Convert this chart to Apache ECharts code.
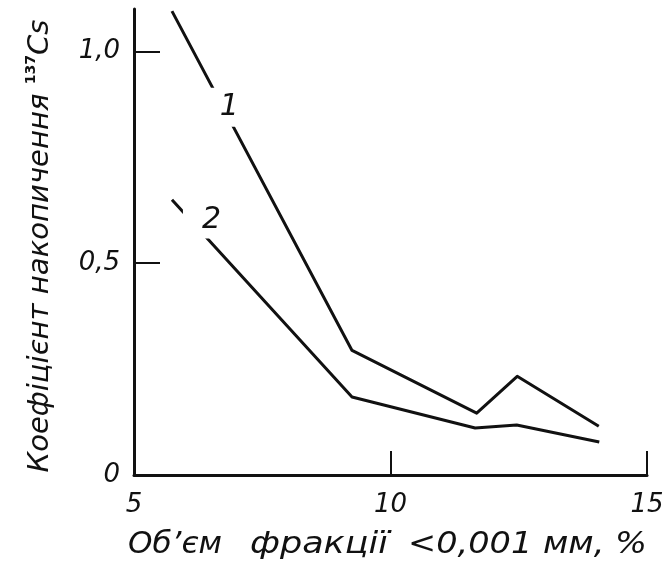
<!DOCTYPE html>
<html>
<head>
<meta charset="utf-8">
<script src="https://cdn.jsdelivr.net/npm/echarts@6/dist/echarts.min.js"></script>
<style>html,body{margin:0;padding:0;background:#fff}#c{width:671px;height:565px}</style>
</head>
<body>
<div id="c"></div>
<script>
// Data
var xTicks = [5, 10, 15];
var yTicks = ['0', '0,5', '1,0'];
var curve1X = [5.74, 9.25, 11.68, 12.47, 14.06];
var curve1Y = [1.095, 0.294, 0.146, 0.233, 0.115];
var curve2X = [5.74, 9.25, 11.65, 12.46, 14.07];
var curve2Y = [0.650, 0.184, 0.111, 0.118, 0.078];
var curveNames = ['1', '2'];
var xTitleParts = ['Об\u2019єм', 'фракції', '<0,001 мм, %'];
var yTitleMain = 'Коефіцієнт накопичення ';
var yTitleSup = '137';
var yTitleEnd = 'Cs';

function pairs(xs, ys) { return xs.map(function (x, i) { return [x, ys[i]]; }); }

var FONT = '"DejaVu Sans", sans-serif';
var ctx = document.createElement('canvas').getContext('2d');
function measure(text, font) { ctx.font = font; return ctx.measureText(text).width; }
var TITLE_FONT = 'italic 30px ' + FONT;

// x-axis title pieces: target left/right extents from the reference
var xSpans = [[128, 222], [250, 388], [408, 647]];
var graphics = xTitleParts.map(function (t, i) {
  var w = measure(t, TITLE_FONT);
  return {
    type: 'text', x: xSpans[i][0], y: 545, scaleX: (xSpans[i][1] - xSpans[i][0]) / w,
    silent: true,
    style: {text: t, font: TITLE_FONT, fill: '#111', align: 'left', verticalAlign: 'middle',
      textAlign: 'left', textVerticalAlign: 'middle'}
  };
});
// y-axis title (rotated)
var yLen = measure(yTitleMain + yTitleEnd, 'italic 29px ' + FONT) + measure(yTitleSup, 'bold 14px ' + FONT);
graphics.push({
  type: 'text', x: 40, y: 246, rotation: Math.PI / 2, scaleX: 453 / yLen, silent: true,
  style: {
    text: '{a|' + yTitleMain + '}{s|' + yTitleSup + '}{a|' + yTitleEnd + '}',
    align: 'center', verticalAlign: 'middle', textAlign: 'center', textVerticalAlign: 'middle',
    rich: {
      a: {fontFamily: FONT, fontStyle: 'italic', fontSize: 29, fill: '#111', color: '#111', lineHeight: 32},
      s: {fontFamily: FONT, fontWeight: 'bold', fontSize: 14, fill: '#111', color: '#111', verticalAlign: 'top', lineHeight: 32, padding: [0, 0, 16, 0]}
    }
  }
});

var chart = echarts.init(document.getElementById('c'), null, {renderer: 'canvas'});
var lineStyle = {color: '#111', width: 3, join: 'round'};
function tagSeries(text, pt, pad) {
  return {
    type: 'scatter', data: [pt], symbol: 'circle', symbolSize: 1, z: 5, silent: true,
    itemStyle: {color: '#fff', opacity: 1},
    label: {
      show: true, position: 'inside', formatter: text, opacity: 1,
      fontFamily: FONT, fontStyle: 'italic', fontSize: 30, lineHeight: 30, color: '#111',
      backgroundColor: '#fff', padding: pad
    }
  };
}
chart.setOption({
  animation: false,
  backgroundColor: '#fff',
  graphic: graphics,
  grid: {left: 134, right: 24, top: 9, bottom: 90},
  xAxis: {
    type: 'value', min: 5, max: 15, interval: 5,
    axisLine: {onZero: false, lineStyle: {color: '#111', width: 3}},
    axisTick: {show: true, inside: true, length: 24, lineStyle: {color: '#111', width: 2}},
    splitLine: {show: false},
    axisLabel: {fontFamily: FONT, fontStyle: 'italic', fontSize: 26, color: '#111', margin: 17,
      formatter: function (v) { return xTicks.indexOf(v) >= 0 ? String(v) : ''; }}
  },
  yAxis: {
    type: 'value', min: 0, max: 1.1, interval: 0.5,
    axisLine: {onZero: false, lineStyle: {color: '#111', width: 3}},
    axisTick: {show: true, inside: true, length: 26, lineStyle: {color: '#111', width: 2}},
    splitLine: {show: false},
    axisLabel: {fontFamily: FONT, fontStyle: 'italic', fontSize: 26, color: '#111', margin: 14,
      showMaxLabel: false,
      formatter: function (v) { var i = Math.round(v / 0.5); return (Math.abs(v - i * 0.5) < 1e-6 && yTicks[i]) ? yTicks[i] : ''; }}
  },
  series: [
    {type: 'line', data: pairs(curve1X, curve1Y), symbol: 'none', lineStyle: lineStyle, z: 2, silent: true},
    {type: 'line', data: pairs(curve2X, curve2Y), symbol: 'none', lineStyle: lineStyle, z: 2, silent: true},
    tagSeries(curveNames[0], [6.78, 0.868], [5, 1, 4, 9]),
    tagSeries(curveNames[1], [6.335, 0.601], [3, 1, 3, 19])
  ]
});
</script>
</body>
</html>
